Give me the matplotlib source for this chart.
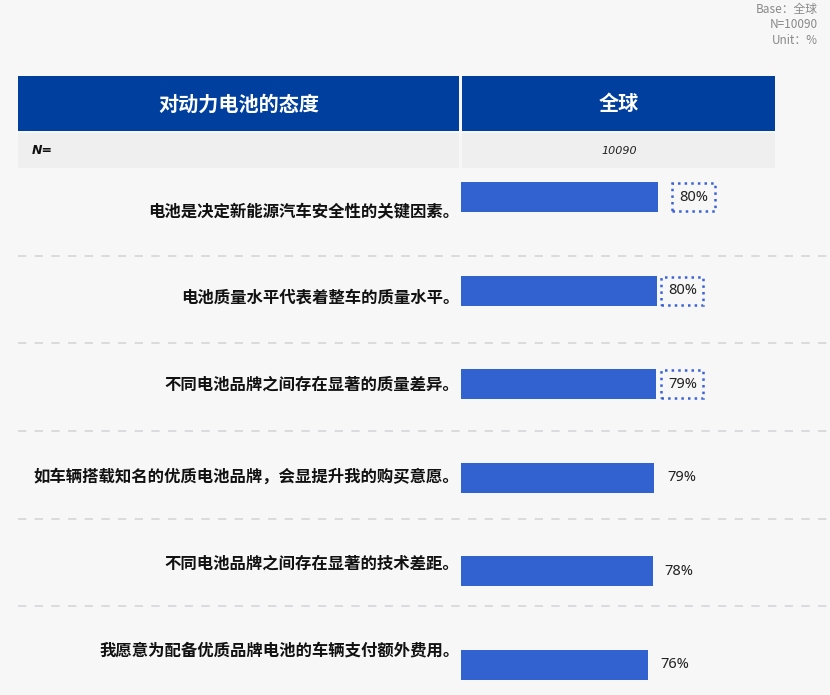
import matplotlib.pyplot as plt
from matplotlib.patches import Rectangle
from matplotlib.lines import Line2D
from matplotlib.transforms import blended_transform_factory

plt.rcParams['font.family'] = ['Noto Sans CJK SC', 'DejaVu Sans']

statements = [
    "电池是决定新能源汽车安全性的关键因素。",
    "电池质量水平代表着整车的质量水平。",
    "不同电池品牌之间存在显著的质量差异。",
    "如车辆搭载知名的优质电池品牌，会显提升我的购买意愿。",
    "不同电池品牌之间存在显著的技术差距。",
    "我愿意为配备优质品牌电池的车辆支付额外费用。",
]
shares = [80.1, 79.8, 79.4, 78.6, 78.0, 76.0]
share_labels = ["80%", "80%", "79%", "79%", "78%", "76%"]
boxed = [True, True, True, False, False, False]

W, H = 830, 695
BG = "#f7f7f8"
HEAD = "#003f9e"
BAR = "#3162cf"

fig = plt.figure(figsize=(W / 100, H / 100), dpi=100, facecolor=BG)


def fx(x):
    return x / W


def fy(y):
    return 1 - y / H


# header table
fig.add_artist(Rectangle((fx(18), fy(131)), fx(459) - fx(18), fy(76) - fy(131), color=HEAD, lw=0))
fig.add_artist(Rectangle((fx(462), fy(131)), fx(775) - fx(462), fy(76) - fy(131), color=HEAD, lw=0))
fig.add_artist(Rectangle((fx(18), fy(168)), fx(459) - fx(18), fy(133) - fy(168), color="#efeff0", lw=0))
fig.add_artist(Rectangle((fx(462), fy(168)), fx(775) - fx(462), fy(133) - fy(168), color="#efeff0", lw=0))
fig.text(fx(239), fy(104), "对动力电池的态度", color="white", fontsize=14.5, fontweight="bold",
         ha="center", va="center")
fig.text(fx(619), fy(104), "全球", color="white", fontsize=14.5, fontweight="bold",
         ha="center", va="center")
fig.text(fx(32), fy(150), "N=", fontsize=9, fontweight="bold", style="italic",
         ha="left", va="center", family="DejaVu Sans", color="#111111")
fig.text(fx(619), fy(151), "10090", fontsize=8, style="italic",
         ha="center", va="center", family="DejaVu Sans", color="#222222")

# base note top right
for yy, t in zip([9, 25, 41], ["Base：全球", "N=10090", "Unit：%"]):
    fig.text(fx(818), fy(yy), t, fontsize=8.5, color="#8a8a8a", ha="right", va="center")

# dashed row separators
for yy in [256, 343, 431, 519, 606]:
    fig.add_artist(Line2D([fx(18), fx(830)], [fy(yy), fy(yy)], color="#d6d6d8",
                          lw=1.2, ls=(0, (5, 5))))

# bar axes
top, bottom = 150.2, 150.2 + 6 * 93.6
ax = fig.add_axes([fx(461), fy(bottom), fx(830) - fx(461), fy(top) - fy(bottom)])
ax.set_facecolor("none")
ypos = list(range(len(shares)))
ax.barh(ypos, shares, height=0.32, color=BAR)
ax.set_xlim(0, 150)
ax.set_ylim(5.5, -0.5)
ax.axis("off")

label_shift = [0.16, 0.075, 0.0, -0.01, -0.085, -0.16]
trans = blended_transform_factory(ax.transAxes, ax.transData)
for i, s in enumerate(statements):
    ax.text(-0.004, i + label_shift[i], s, transform=trans, ha="right", va="center",
            fontsize=11.8, fontweight="bold", color="#111111")

value_gap = [8.5, 4.3, 4.7, 5.1, 4.5, 4.9]
for i, (v, lab) in enumerate(zip(shares, share_labels)):
    kw = dict(ha="left", va="center", fontsize=10.5, color="#222222",
              family=["Noto Sans", "DejaVu Sans"])
    if boxed[i]:
        kw["bbox"] = dict(boxstyle="square,pad=0.45", fc="none", ec="#3a62d6", lw=1.8, ls=":")
    ax.text(v + value_gap[i], i, lab, **kw)

fig.savefig("out.png", dpi=100, facecolor=BG)
